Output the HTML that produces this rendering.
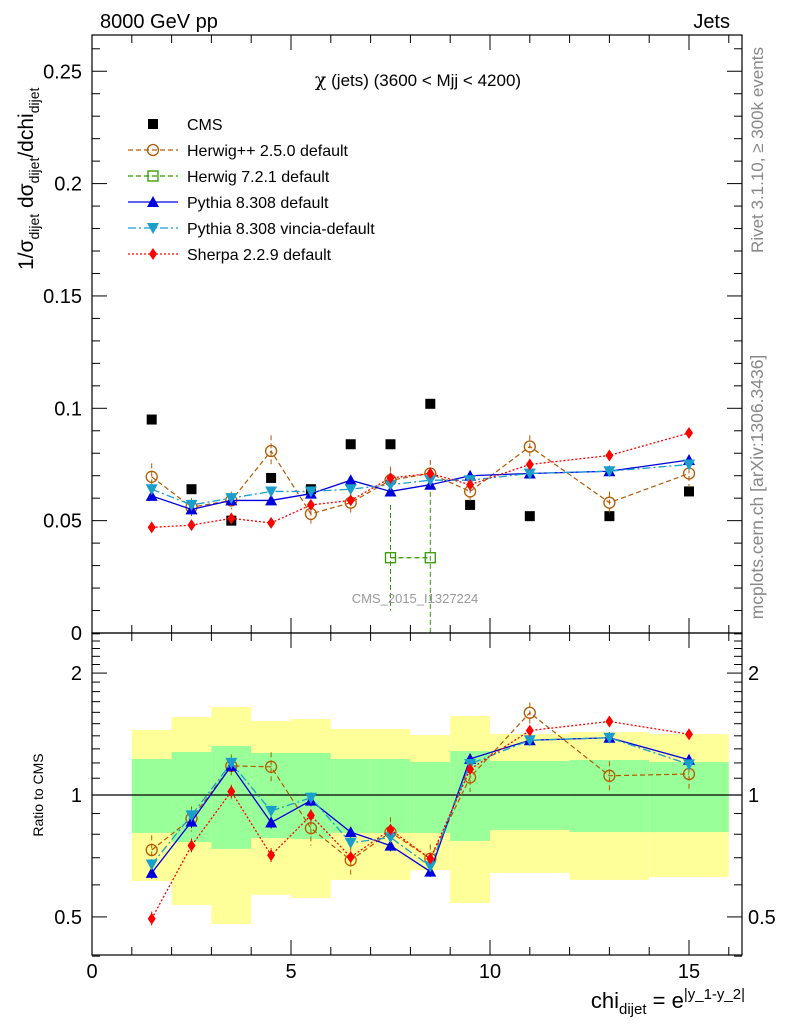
<!DOCTYPE html>
<html><head><meta charset="utf-8"><style>
html,body{margin:0;padding:0;background:#fff;}
svg{display:block;font-family:"Liberation Sans",sans-serif;}
</style></head><body>
<svg id="c" width="786" height="1024" viewBox="0 0 786 1024" xmlns="http://www.w3.org/2000/svg">
<rect x="0" y="0" width="786" height="1024" fill="#fff"/>
<g id="bands"></g>
<g id="marks"></g>
<g id="axes"></g>
<text x="100" y="28" font-size="20">8000 GeV pp</text>
<text x="730" y="28" font-size="20" text-anchor="end">Jets</text>
<text x="418" y="86" font-size="17" text-anchor="middle"><tspan font-family="DejaVu Serif,serif" font-size="19">χ</tspan> (jets) (3600 &lt; Mjj &lt; 4200)</text>
<text x="415" y="603" font-size="13" fill="#999" text-anchor="middle">CMS_2015_I1327224</text>
<text transform="translate(763,150) rotate(-90)" font-size="17" fill="#888" text-anchor="middle">Rivet 3.1.10, ≥ 300k events</text>
<text transform="translate(763,487) rotate(-90)" font-size="17.5" fill="#888" text-anchor="middle">mcplots.cern.ch [arXiv:1306.3436]</text>
<text transform="translate(33,270) rotate(-90)" font-size="21">1/σ<tspan font-size="14" dy="6">dijet</tspan><tspan dy="-6"> dσ</tspan><tspan font-size="14" dy="6">dijet</tspan><tspan dy="-6">/dchi</tspan><tspan font-size="14" dy="6">dijet</tspan></text>
<text transform="translate(43,795) rotate(-90)" font-size="14" text-anchor="middle">Ratio to CMS</text>
<text x="745" y="1008" font-size="22" text-anchor="end">chi<tspan font-size="15" dy="6">dijet</tspan><tspan dy="-6"> = e</tspan><tspan font-size="15" dy="-9">|y_1-y_2|</tspan></text>
<g id="legend"></g>
</svg>
<script>
const xs = [1.5,2.5,3.5,4.5,5.5,6.5,7.5,8.5,9.5,11,13,15];
const edges = [1,2,3,4,5,6,7,8,9,10,12,14,16];
const cms = [0.095,0.064,0.050,0.069,0.064,0.084,0.084,0.102,0.057,0.052,0.052,0.063];
const herwigpp = [0.0695,0.056,0.059,0.081,0.053,0.058,0.068,0.071,0.063,0.083,0.058,0.071];
const herwigppErr = [0.006,0.004,0.004,0.007,0.005,0.005,0.006,0.006,0.005,0.005,0.005,0.006];
const herwig7X = [7.5,8.5];
const herwig7 = [0.0335,0.0335];
const herwig7Err = [0.0235,0.04];
const pythia = [0.061,0.055,0.059,0.059,0.062,0.068,0.063,0.066,0.070,0.071,0.072,0.077];
const vincia = [0.064,0.057,0.060,0.063,0.063,0.064,0.066,0.068,0.068,0.071,0.072,0.075];
const sherpa = [0.047,0.048,0.051,0.049,0.057,0.059,0.069,0.071,0.066,0.075,0.079,0.089];
const smallErr = [0.002,0.002,0.002,0.002,0.002,0.002,0.002,0.002,0.002,0.002,0.002,0.002];
const yellowHi = [1.447,1.558,1.649,1.523,1.54,1.455,1.455,1.406,1.567,1.414,1.43,1.414];
const yellowLo = [0.613,0.535,0.480,0.567,0.557,0.617,0.617,0.653,0.541,0.642,0.617,0.627];
const greenHi = [1.227,1.277,1.321,1.270,1.270,1.227,1.227,1.206,1.284,1.213,1.22,1.206];
const greenLo = [0.806,0.765,0.736,0.783,0.779,0.806,0.806,0.806,0.770,0.820,0.81,0.81];
const xTicks = [0,5,10,15];
const yTicks = [0,0.05,0.1,0.15,0.2,0.25];
const yTickLabels = ["0","0.05","0.1","0.15","0.2","0.25"];
const rTicks = [0.5,1,2];

const NS="http://www.w3.org/2000/svg";
const L=92,R=742,T=35,MB=633,RB=955;
const X=v=>L+(v)*39.8;
const Y=v=>MB-v*2247;
const RY=v=>795-Math.log10(v)*405;
function mk(tag,attrs,parent){const e=document.createElementNS(NS,tag);for(const k in attrs)e.setAttribute(k,attrs[k]);parent.appendChild(e);return e;}
const bands=document.getElementById('bands'),marks=document.getElementById('marks'),axes=document.getElementById('axes'),leg=document.getElementById('legend');

for(let i=0;i<xs.length;i++){
  const x0=X(edges[i]),x1=X(edges[i+1]);
  const y1=mk('rect',{x:x0,y:RY(yellowHi[i]),width:x1-x0,height:RY(yellowLo[i])-RY(yellowHi[i]),fill:'#ffff99'},bands);
  
  
  const g1=mk('rect',{x:x0,y:RY(greenHi[i]),width:x1-x0,height:RY(greenLo[i])-RY(greenHi[i]),fill:'#99ff99'},bands);
  
  
}
const one=mk('line',{x1:L,x2:R,y1:RY(1),y2:RY(1),stroke:'#000','stroke-width':1.2},bands);



function marker(type,cx,cy,color,parent){
  let e;
  if(type==='sq') e=mk('rect',{x:cx-5,y:cy-5,width:10,height:10,fill:color},parent);
  else if(type==='circ') e=mk('circle',{cx:cx,cy:cy,r:5.5,fill:'none',stroke:color,'stroke-width':1.3},parent);
  else if(type==='osq') e=mk('rect',{x:cx-5,y:cy-5,width:10,height:10,fill:'none',stroke:color,'stroke-width':1.3},parent);
  else if(type==='tri') e=mk('polygon',{points:`${cx},${cy-6} ${cx-6},${cy+5} ${cx+6},${cy+5}`,fill:color},parent);
  else if(type==='itri') e=mk('polygon',{points:`${cx},${cy+6} ${cx-6},${cy-5} ${cx+6},${cy-5}`,fill:color},parent);
  else e=mk('polygon',{points:`${cx},${cy-6} ${cx-4},${cy} ${cx},${cy+6} ${cx+4},${cy}`,fill:color},parent);
  return e;
}
const series=[
 {name:'herwigpp',vals:herwigpp,err:herwigppErr,color:'#b35900',dash:'5,3',m:'circ',w:1.2},
 {name:'pythia',vals:pythia,err:smallErr,color:'#0000dd',dash:'',m:'tri',w:1.3},
 {name:'vincia',vals:vincia,err:smallErr,color:'#1a9fcc',dash:'8,3,2,3',m:'itri',w:1.3},
 {name:'sherpa',vals:sherpa,err:smallErr,color:'#ff0000',dash:'2,2',m:'dia',w:1.3},
];
function drawSeries(s,xv,vals,err,yf,ratio){
  const g=mk('g',{},marks);
  
  
  const pts=xv.map((x,i)=>X(x)+','+yf(ratio?vals[i]/cms[i]:vals[i])).join(' ');
  mk('polyline',{points:pts,fill:'none',stroke:s.color,'stroke-width':s.w,'stroke-dasharray':s.dash},g);
  xv.forEach((x,i)=>{
    const v=ratio?vals[i]/cms[i]:vals[i], e=ratio?err[i]/cms[i]:err[i];
    const lo=Math.max(v-e,ratio?0.3:-0.01);
    mk('line',{x1:X(x),x2:X(x),y1:yf(v+e),y2:Math.min(yf(lo),ratio?RB:MB),stroke:s.color,'stroke-width':1,'stroke-dasharray':s.dash},g);
    const m=marker(s.m,X(x),yf(v),s.color,g);
    
    
  });
}
const cg=mk('g',{},marks);


xs.forEach((x,i)=>{const m=marker('sq',X(x),Y(cms[i]),'#000',cg);
 
 });
const h7={name:'herwig7',color:'#339900',dash:'5,3',m:'osq',w:1.2};
drawSeries(h7,herwig7X,herwig7,herwig7Err,Y,false);
series.forEach(s=>drawSeries(s,xs,s.vals,s.err,Y,false));
series.forEach(s=>drawSeries(s,xs,s.vals,s.err,RY,true));

mk('rect',{x:L,y:T,width:R-L,height:MB-T,fill:'none',stroke:'#000','stroke-width':1.2},axes);
mk('rect',{x:L,y:MB,width:R-L,height:RB-MB,fill:'none',stroke:'#000','stroke-width':1.2},axes);
for(let v=0;v<=16;v++){
  const maj=v%5===0, x=X(v);
  mk('line',{x1:x,x2:x,y1:T,y2:T+(maj?15:8),stroke:'#000'},axes);
  mk('line',{x1:x,x2:x,y1:MB,y2:MB-(maj?15:8),stroke:'#000'},axes);
  mk('line',{x1:x,x2:x,y1:MB,y2:MB+(maj?15:8),stroke:'#000'},axes);
  mk('line',{x1:x,x2:x,y1:RB,y2:RB-(maj?15:8),stroke:'#000'},axes);
}
xTicks.forEach(v=>{const t=mk('text',{x:X(v),y:978,'font-size':20,'text-anchor':'middle'},axes);t.textContent=v;
 
 });
for(let k=0;k<=26;k++){
  const v=k*0.01,y=Y(v),maj=k%5===0;
  mk('line',{x1:L,x2:L+(maj?15:8),y1:y,y2:y,stroke:'#000'},axes);
  mk('line',{x1:R,x2:R-(maj?15:8),y1:y,y2:y,stroke:'#000'},axes);
}
yTicks.forEach((v,i)=>{const t=mk('text',{x:82,y:Y(v)+7,'font-size':20,'text-anchor':'end'},axes);t.textContent=yTickLabels[i];
 
 });
const rt=[0.4,0.5,0.6,0.7,0.8,0.9,1,1.1,1.2,1.3,1.4,1.5,1.6,1.7,1.8,1.9,2,2.1,2.2,2.3,2.4,2.5];
rt.forEach(v=>{const y=RY(v),maj=rTicks.includes(v);
  if(y<T+598) return;
  mk('line',{x1:L,x2:L+(maj?15:8),y1:y,y2:y,stroke:'#000'},axes);
  mk('line',{x1:R,x2:R-(maj?15:8),y1:y,y2:y,stroke:'#000'},axes);});
rTicks.forEach(v=>{
  const t=mk('text',{x:82,y:RY(v)+7,'font-size':20,'text-anchor':'end'},axes);t.textContent=v;
  
  
  const t2=mk('text',{x:748,y:RY(v)+7,'font-size':20,'text-anchor':'start'},axes);t2.textContent=v;
  
  });

const legItems=[
 {label:'CMS',color:'#000',dash:null,m:'sq'},
 {label:'Herwig++ 2.5.0 default',color:'#b35900',dash:'5,3',m:'circ'},
 {label:'Herwig 7.2.1 default',color:'#339900',dash:'5,3',m:'osq'},
 {label:'Pythia 8.308 default',color:'#0000dd',dash:'',m:'tri'},
 {label:'Pythia 8.308 vincia-default',color:'#1a9fcc',dash:'8,3,2,3',m:'itri'},
 {label:'Sherpa 2.2.9 default',color:'#ff0000',dash:'2,2',m:'dia'},
];
legItems.forEach((it,i)=>{
  const y=124+i*26;
  const g=mk('g',{},leg);
  
  
  if(it.dash!==null) mk('line',{x1:128,x2:178,y1:y,y2:y,stroke:it.color,'stroke-width':1.3,'stroke-dasharray':it.dash},g);
  marker(it.m,153,y,it.color,g);
  const t=mk('text',{x:187,y:y+6,'font-size':16},g);t.textContent=it.label;
});
</script>
</body></html>
